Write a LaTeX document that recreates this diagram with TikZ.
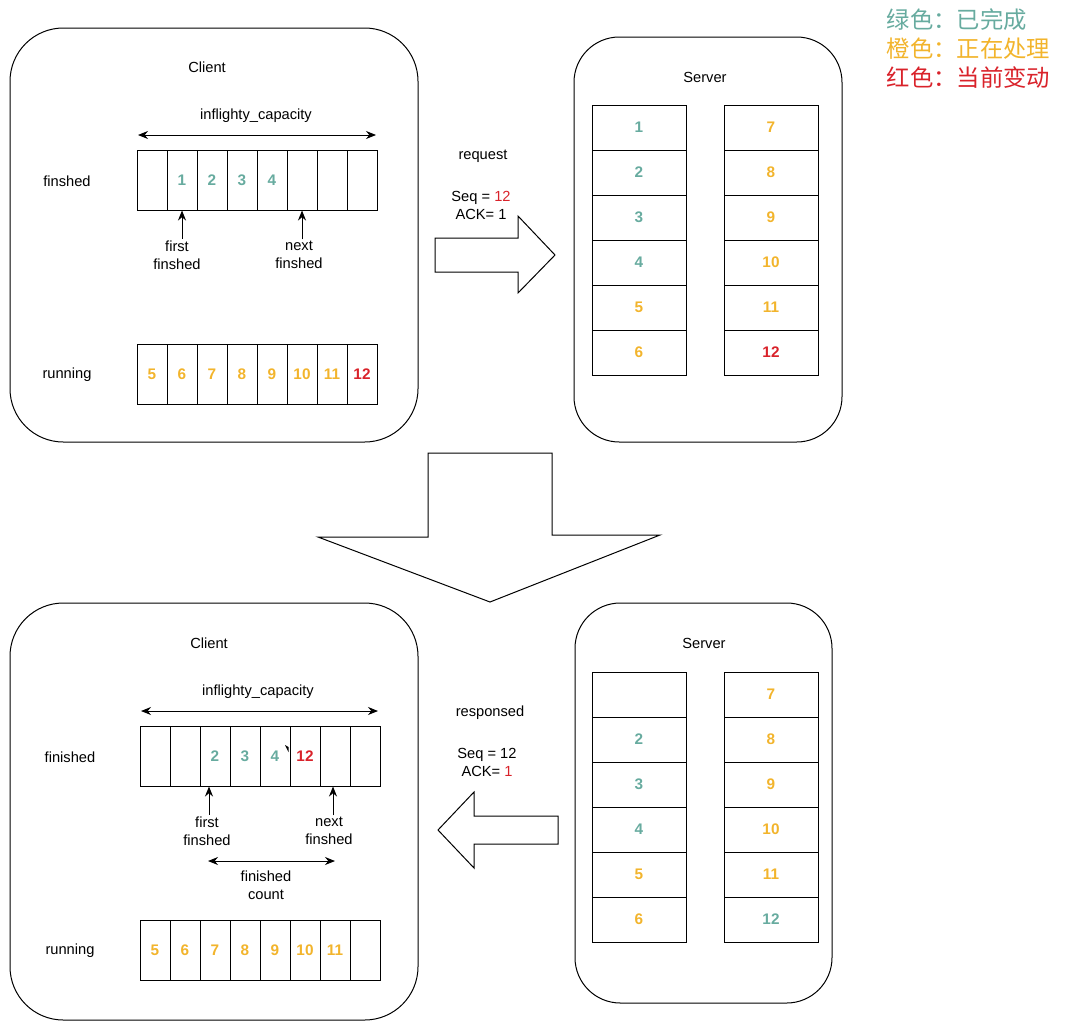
\documentclass[tikz,border=0pt]{standalone}
\usepackage{fontspec}
\setmainfont{Liberation Sans}
\newfontfamily\cjk{Noto Sans CJK SC}
\usetikzlibrary{arrows.meta}
\definecolor{donegreen}{HTML}{67AB9F}
\definecolor{busyorange}{HTML}{F2B42C}
\definecolor{nowred}{HTML}{D9222A}
\begin{document}
\begin{tikzpicture}[x=0.75pt,y=-0.75pt,line width=0.75pt,>={Stealth[length=7.5pt,width=6pt]},
    every node/.style={font=\fontsize{11}{13.5}\selectfont},
    cell/.style={draw,inner sep=0pt,minimum width=22.5pt,minimum height=45pt},
    slot/.style={draw,inner sep=0pt,minimum width=70.5pt,minimum height=33.75pt},
    num/.style={font=\fontsize{11.5}{13.5}\selectfont\bfseries},
    legend/.style={anchor=west,font=\cjk\fontsize{17.5}{20}\selectfont}]
    \useasboundingbox (0,0) rectangle (1080,1028);
    % legend
    \node[legend,text=donegreen] (lg1) at (882,20) {绿色：已完成};
    \node[legend,text=busyorange] (lg2) at (882,49) {橙色：正在处理};
    \node[legend,text=nowred] (lg3) at (882,78) {红色：当前变动};
    % frames
    \draw[rounded corners=40pt] (10,28) rectangle (418,442);
    \draw[rounded corners=34pt] (574,37) rectangle (842,442);
    \draw[rounded corners=40pt] (10,603) rectangle (418,1020);
    \draw[rounded corners=34pt] (575,603) rectangle (832,1003);
    % top client
    \node (c1) at (207,67) {Client};
    \node (cap1) at (256,116) {inflighty\_capacity};
    \coordinate (capL1) at (138,135);
    \coordinate (capR1) at (376,135);
    \draw[<->] (capL1)--(capR1);
    \foreach \i in {1,...,8} {
        \node[cell] (tf\i) at ({152+30*(\i-1)},180) {};
        \node[cell] (tr\i) at ({152+30*(\i-1)},374) {};
    }
    \foreach \v [count=\i from 2] in {1,2,3,4}
        \node[num,text=donegreen] at (tf\i) {\v};
    \foreach \v [count=\i] in {5,6,7,8,9,10,11}
        \node[num,text=busyorange] at (tr\i) {\v};
    \node[num,text=nowred] at (tr8) {12};
    \node (fl1) at (67,181) {finshed};
    \node (rl1) at (67,375) {running};
    \node[align=center,inner sep=1pt] (ff1) at (177,255) {first\\finshed};
    \node[align=center,inner sep=1pt] (nf1) at (299,255) {next\\finshed};
    \draw[->] (ff1.north -| tf2) -- (tf2.south);
    \draw[->] (nf1.north -| tf6) -- (tf6.south);
    % request
    \node (req) at (483,156) {request};
    \node[align=center] (msg1) at (481,205) {Seq = \textcolor{nowred}{12}\\ACK= 1};
    \draw (435,238)--(518,238)--(518,216)--(555,255)--(518,293)--(518,272)--(435,272)--cycle;
    % top server
    \node (s1) at (705,77) {Server};
    \foreach \i in {1,...,6} {
        \node[slot] (sa\i) at (639,{127.5+45*(\i-1)}) {};
        \node[slot] (sb\i) at (771,{127.5+45*(\i-1)}) {};
    }
    \foreach \v [count=\i] in {1,2,3,4}
        \node[num,text=donegreen] at (sa\i) {\v};
    \node[num,text=busyorange] at (sa5) {5};
    \node[num,text=busyorange] at (sa6) {6};
    \foreach \v [count=\i] in {7,8,9,10,11}
        \node[num,text=busyorange] at (sb\i) {\v};
    \node[num,text=nowred] at (sb6) {12};
    % down arrow
    \draw (428,453)--(552,453)--(552,535)--(660,535)--(490,602)--(318,537)--(428,537)--cycle;
    % bottom client
    \node (c2) at (209,643) {Client};
    \node (cap2) at (258,692) {inflighty\_capacity};
    \coordinate (capL2) at (141,711);
    \coordinate (capR2) at (378,711);
    \draw[<->] (capL2)--(capR2);
    \foreach \i in {1,...,8} {
        \node[cell] (bf\i) at ({155+30*(\i-1)},756) {};
        \node[cell] (br\i) at ({155+30*(\i-1)},950) {};
    }
    \foreach \v [count=\i from 3] in {2,3,4}
        \node[num,text=donegreen] at (bf\i) {\v};
    \node[num,text=nowred] at (bf6) {12};
    \fill (285,745) -- (288.5,747) -- (288.5,752) -- cycle;
    \foreach \v [count=\i] in {5,6,7,8,9,10,11}
        \node[num,text=busyorange] at (br\i) {\v};
    \node (fl2) at (70,757) {finished};
    \node (rl2) at (70,951) {running};
    \node[align=center,inner sep=1pt] (ff2) at (207,831) {first\\finshed};
    \node[align=center,inner sep=1pt] (nf2) at (329,831) {next\\finshed};
    \draw[->] ([xshift=1.5pt]ff2.north) -- ([xshift=1.5pt]ff2.north |- bf3.south);
    \draw[->] ([xshift=3pt]nf2.north) -- ([xshift=3pt]nf2.north |- bf7.south);
    \coordinate (cntL) at (208,861);
    \coordinate (cntR) at (335,861);
    \draw[<->] (cntL)--(cntR);
    \node[align=center] (cnt) at (266,885) {finished\\count};
    % response
    \node (resp) at (490,713) {responsed};
    \node[align=center] (msg2) at (487,762) {Seq = 12\\ACK= \textcolor{nowred}{1}};
    \draw (558,816)--(474,816)--(474,792)--(438,830)--(474,868)--(474,844)--(558,844)--cycle;
    % bottom server
    \node (s2) at (704,643) {Server};
    \foreach \i in {1,...,6} {
        \node[slot] (ta\i) at (639,{694.5+45*(\i-1)}) {};
        \node[slot] (tb\i) at (771,{694.5+45*(\i-1)}) {};
    }
    \foreach \v [count=\i from 2] in {2,3,4}
        \node[num,text=donegreen] at (ta\i) {\v};
    \node[num,text=busyorange] at (ta5) {5};
    \node[num,text=busyorange] at (ta6) {6};
    \foreach \v [count=\i] in {7,8,9,10,11}
        \node[num,text=busyorange] at (tb\i) {\v};
    \node[num,text=donegreen] at (tb6) {12};
\end{tikzpicture}
\end{document}
